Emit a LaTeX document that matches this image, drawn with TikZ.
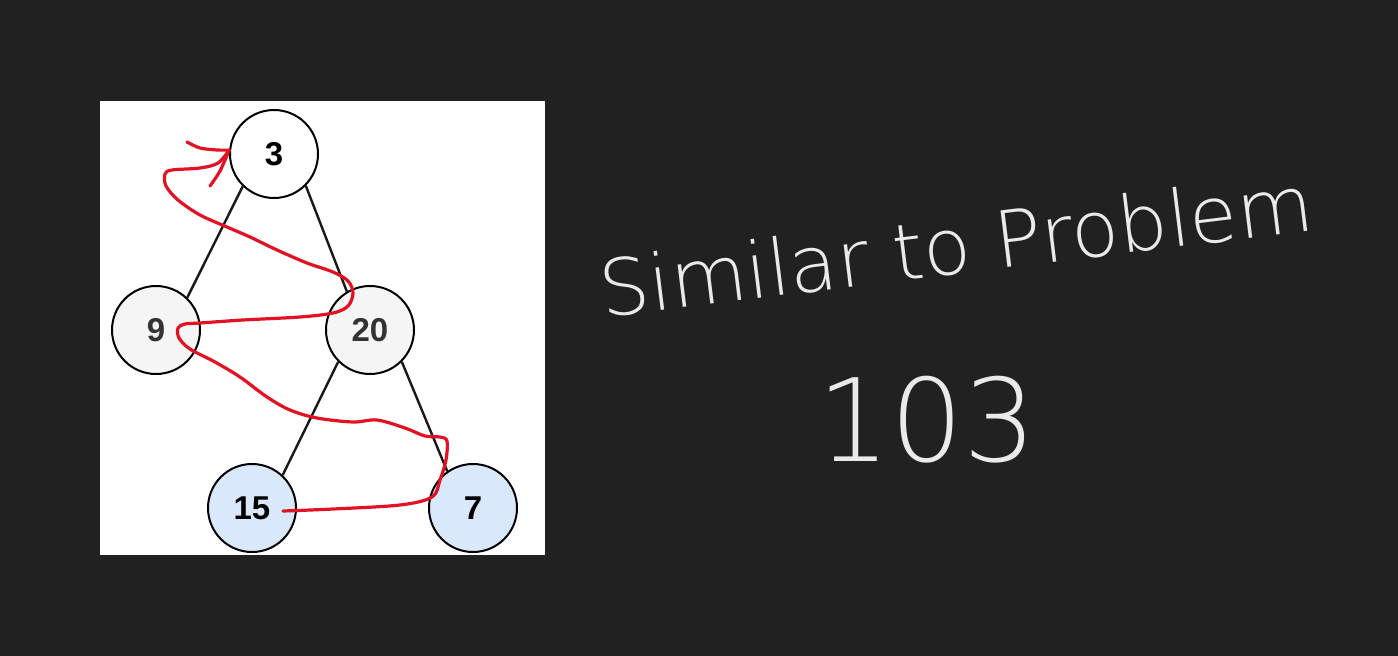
\documentclass[tikz,border=0pt]{standalone}
\usepackage{fontspec}
\setmainfont{Liberation Sans}
\newfontfamily\handfont{DejaVuSans-ExtraLight.ttf}
\usetikzlibrary{positioning, calc}
\definecolor{boardbg}{RGB}{33,33,33}
\definecolor{chalk}{RGB}{234,234,234}
\definecolor{tracered}{RGB}{226,18,36}
\definecolor{visitgray}{RGB}{245,245,245}
\definecolor{leafblue}{RGB}{218,232,252}
\tikzset{
    treenode/.style={circle, draw=black, line width=2pt, minimum size=88pt, inner sep=0pt, fill=white, font=\fontsize{33}{33}\selectfont\bfseries},
    midnode/.style={treenode, fill=visitgray, text=black!80},
    leafnode/.style={treenode, fill=leafblue},
    treeedge/.style={line width=2.4pt, black!90},
    trace/.style={line width=3.2pt, tracered, line cap=round, line join=round},
    handwriting/.style={chalk, inner sep=0pt},
}

\begin{document}
\begin{tikzpicture}[x=1pt, y=-1pt]
    \fill[boardbg] (0,0) rectangle (1398,656);
    \useasboundingbox (0,0) rectangle (1398,656);
    \fill[white] (100,101) rectangle (545,555);

    % tree
    \node[treenode] (n3) at (274,154) {3};
    \node[midnode] (n9) at (156,330) {9};
    \node[midnode] (n20) at (370,330) {20};
    \node[leafnode] (n15) at (252,508) {15};
    \node[leafnode] (n7) at (473,508) {7};

    \draw[treeedge] (n3.226) -- (n9.46);
    \draw[treeedge] (n3.315) -- (n20.121);
    \draw[treeedge] (n20.225) -- (n15.47);
    \draw[treeedge] (n20.315) -- (n7.125);

    % level order trace, drawn by hand
    \coordinate (trace start) at ($(n15.center)+(31,3)$);
    \draw[trace] plot[smooth, tension=0.55] coordinates {
        (trace start) (333,509) (400,505) (432,497) (440,480) (446,460)
        (447,441) (440,437) (425,436) (405,428) (377,420) (353,422)
        (317,418) (290,410) (267,397) (240,377) (215,362) (190,349)
        (179,338) (178,328) (185,324) (200,323) (243,320) (300,317)
        (333,313) (348,306) (353,293) (348,281) (333,272) (307,263)
        (277,250) (250,237) (227,227) (200,215) (178,200) (166,186)
        (165,174) (172,170) (200,168) (218,163) (n3.175)};
    \draw[trace] plot[smooth] coordinates {(n3.175) (220,171) (210,186)};
    \draw[trace] plot[smooth] coordinates {(n3.175) (217,150) (200,148) (187,142)};

    % note
    \node[handwriting, rotate=7, font=\handfont\fontsize{78}{80}\selectfont] (note) at (956,245) {Similar to Problem};
    \node[handwriting, font=\handfont\fontsize{115}{115}\selectfont] (number) at (927,420) {103};
\end{tikzpicture}
\end{document}
